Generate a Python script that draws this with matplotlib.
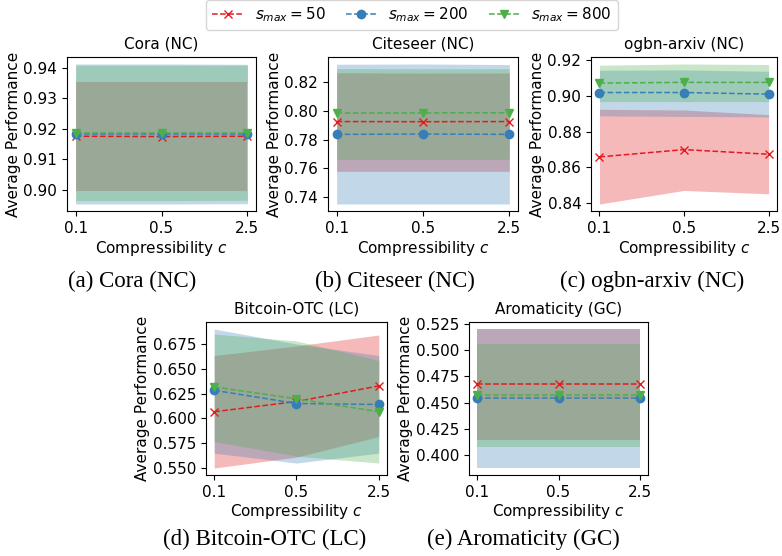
import matplotlib
matplotlib.use('Agg')
import matplotlib.pyplot as plt
import numpy as np

compress = ['0.1', '0.5', '2.5']
smax_labels = ['$s_{max} = 50$', '$s_{max} = 200$', '$s_{max} = 800$']
colors = ['#e41a1c', '#377eb8', '#4daf4a']
markers = ['x', 'o', 'v']

titles = ['Cora (NC)', 'Citeseer (NC)', 'ogbn-arxiv (NC)', 'Bitcoin-OTC (LC)', 'Aromaticity (GC)']
captions = ['(a) Cora (NC)', '(b) Citeseer (NC)', '(c) ogbn-arxiv (NC)',
            '(d) Bitcoin-OTC (LC)', '(e) Aromaticity (GC)']

# mean / lower / upper per dataset, rows = s_max 50, 200, 800
cora_mean = [[0.9176, 0.9175, 0.9176], [0.9182, 0.9182, 0.9182], [0.9187, 0.9187, 0.9187]]
cora_low = [[0.8998, 0.8998, 0.8998], [0.8954, 0.8954, 0.8955], [0.8965, 0.8965, 0.8966]]
cora_high = [[0.9355, 0.9355, 0.9355], [0.9413, 0.9413, 0.9412], [0.9409, 0.9409, 0.9409]]

cite_mean = [[0.7926, 0.7925, 0.7926], [0.7837, 0.7839, 0.7837], [0.7985, 0.7986, 0.7987]]
cite_low = [[0.7580, 0.7580, 0.7580], [0.7353, 0.7353, 0.7353], [0.7662, 0.7662, 0.7663]]
cite_high = [[0.8265, 0.8263, 0.8264], [0.8324, 0.8326, 0.8322], [0.8294, 0.8293, 0.8293]]

arxiv_mean = [[0.8658, 0.8699, 0.8673], [0.9019, 0.9019, 0.9010], [0.9072, 0.9076, 0.9076]]
arxiv_low = [[0.8394, 0.8470, 0.8451], [0.8888, 0.8885, 0.8882], [0.8968, 0.8968, 0.8968]]
arxiv_high = [[0.8925, 0.8921, 0.8895], [0.9144, 0.9146, 0.9138], [0.9172, 0.9179, 0.9176]]

btc_mean = [[0.6067, 0.6170, 0.6327], [0.6283, 0.6150, 0.6140], [0.6317, 0.6197, 0.6067]]
btc_low = [[0.5500, 0.5610, 0.5817], [0.5650, 0.5550, 0.5650], [0.5767, 0.5620, 0.5550]]
btc_high = [[0.6633, 0.6730, 0.6840], [0.6900, 0.6750, 0.6633], [0.6850, 0.6780, 0.6584]]

arom_mean = [[0.4676, 0.4676, 0.4676], [0.4542, 0.4542, 0.4542], [0.4571, 0.4571, 0.4571]]
arom_low = [[0.4137, 0.4137, 0.4137], [0.3872, 0.3872, 0.3872], [0.4073, 0.4073, 0.4073]]
arom_high = [[0.5205, 0.5205, 0.5205], [0.5205, 0.5205, 0.5205], [0.5059, 0.5059, 0.5059]]

# y tick values shown in each panel
cora_ticks = [0.90, 0.91, 0.92, 0.93, 0.94]
cite_ticks = [0.74, 0.76, 0.78, 0.80, 0.82]
arxiv_ticks = [0.84, 0.86, 0.88, 0.90, 0.92]
btc_ticks = [0.550, 0.575, 0.600, 0.625, 0.650, 0.675]
arom_ticks = [0.400, 0.425, 0.450, 0.475, 0.500, 0.525]
tick_fmt = ['%.2f', '%.2f', '%.2f', '%.3f', '%.3f']

data = [(cora_mean, cora_low, cora_high), (cite_mean, cite_low, cite_high),
        (arxiv_mean, arxiv_low, arxiv_high), (btc_mean, btc_low, btc_high),
        (arom_mean, arom_low, arom_high)]
yticks = [cora_ticks, cite_ticks, arxiv_ticks, btc_ticks, arom_ticks]

# axes rectangles in figure fractions
rects = [[0.0857, 0.6205, 0.2417, 0.277],
         [0.4194, 0.6205, 0.2430, 0.277],
         [0.7558, 0.6205, 0.2379, 0.277],
         [0.2634, 0.1457, 0.2315, 0.275],
         [0.5997, 0.1457, 0.2290, 0.275]]
cap_pos = [(0.169, 0.493), (0.505, 0.493), (0.834, 0.493), (0.339, 0.029), (0.669, 0.029)]

fig = plt.figure(figsize=(7.82, 5.56), dpi=100)
x = np.arange(len(compress))
handles = []
for k in range(5):
    ax = fig.add_axes(rects[k])
    mean, low, high = data[k]
    for i in range(3):
        ax.fill_between(x, low[i], high[i], color=colors[i], alpha=0.3, linewidth=0)
        h, = ax.plot(x, mean[i], linestyle='--', marker=markers[i], color=colors[i],
                     linewidth=1.1, markersize=6, label=smax_labels[i])
        if k == 0:
            handles.append(h)
    ax.set_xticks(x)
    ax.set_xticklabels(compress)
    ax.set_yticks(yticks[k])
    ax.set_yticklabels([tick_fmt[k] % t for t in yticks[k]])
    ax.set_title(titles[k], fontsize=11)
    ax.set_xlabel('Compressibility $c$', fontsize=11, labelpad=2)
    ax.set_ylabel('Average Performance', fontsize=11, labelpad=2)
    ax.tick_params(labelsize=11)
    fig.text(cap_pos[k][0], cap_pos[k][1], captions[k], ha='center', va='center',
             family='Liberation Serif', fontsize=16.5)

fig.legend(handles=handles, loc='center', bbox_to_anchor=(0.527, 0.973), ncol=3,
           fontsize=11, handlelength=2, columnspacing=1.3)

fig.savefig('out.png', dpi=100)
